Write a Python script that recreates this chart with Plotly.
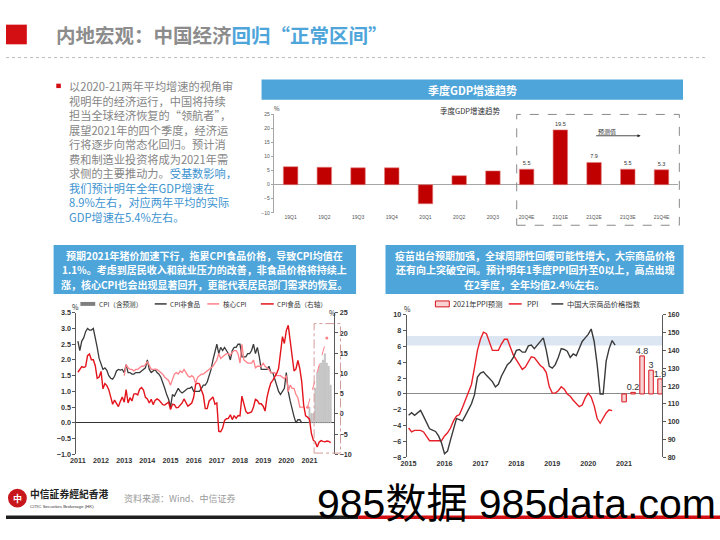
import plotly.graph_objects as go

# ---------------- data ----------------
gdp_quarters = ["19Q1", "19Q2", "19Q3", "19Q4", "20Q1", "20Q2", "20Q3",
                "20Q4E", "21Q1E", "21Q2E", "21Q3E", "21Q4E"]
gdp_growth = [6.4, 6.2, 6.0, 6.0, -6.8, 3.2, 4.9, 5.5, 19.5, 7.9, 5.5, 5.3]
gdp_forecast_from = "20Q4E"

cpi_years = list(range(2011, 2022))
cpi_nonfood_start = (2011, 1)
cpi_nonfood = [
    2.6, 2.3, 2.6, 2.7, 2.9, 3.0, 2.95, 2.95, 3.0, 2.75, 2.4, 2.05,
    1.9, 1.7, 1.75, 1.67, 1.5, 1.42, 1.39, 1.48, 1.65, 1.7, 1.68, 1.7,
    1.6, 1.85, 1.6, 1.6, 1.55, 1.55, 1.6, 1.6, 1.6, 1.65, 1.7, 1.75,
    2.0, 1.7, 1.6, 1.65, 1.7, 1.6, 1.55, 1.45, 1.3, 1.1, 0.9, 0.75,
    0.5, 0.9, 0.85, 1.0, 1.1, 1.0, 0.95, 1.0, 1.05, 1.1, 1.1, 1.15,
    1.0, 1.0, 1.0, 1.0, 1.1, 1.2, 1.2, 1.3, 1.5, 1.7, 2.0, 2.3,
    2.5, 2.2, 2.4, 2.3, 2.4, 2.3, 2.2, 2.0, 2.3, 2.4, 2.4, 2.5,
    2.5, 2.1, 2.1, 2.1, 2.2, 2.2, 2.3, 2.5, 2.2, 2.4, 2.1, 1.7,
    1.7, 1.7, 1.7, 1.8, 1.6, 1.6, 1.4, 1.2, 1.0, 0.9, 1.0, 1.1,
    1.6, 1.0, 0.7, 0.4, 0.2, 0.0, 0.1, 0.1, 0.0,
]
cpi_core_start = (2013, 1)
cpi_core = [
    1.5, 1.85, 1.75, 1.7, 1.7, 1.65, 1.7, 1.7, 1.75, 1.8, 1.8, 1.85,
    1.95, 1.8, 1.7, 1.7, 1.7, 1.7, 1.65, 1.6, 1.55, 1.45, 1.4, 1.35,
    1.2, 1.35, 1.55, 1.6, 1.55, 1.65, 1.6, 1.7, 1.6, 1.5, 1.45, 1.5,
    1.45, 1.25, 1.45, 1.5, 1.55, 1.55, 1.6, 1.65, 1.7, 1.75, 1.8, 1.9,
    2.0, 2.2, 2.05, 2.1, 2.15, 2.2, 2.2, 2.15, 2.25, 2.3, 2.3, 2.2,
    1.9, 2.5, 2.0, 1.95, 1.9, 1.9, 1.9, 2.0, 1.75, 1.8, 1.8, 1.8,
    1.9, 1.8, 1.75, 1.7, 1.6, 1.6, 1.6, 1.5, 1.5, 1.5, 1.45, 1.4,
    1.5, 1.0, 1.2, 1.1, 1.1, 0.9, 0.8, 0.5, 0.5, 0.5,
]
cpi_food_start = (2011, 1)
cpi_food = [
    10.3, 11.0, 11.7, 11.5, 11.7, 14.4, 14.8, 13.4, 13.4, 11.9, 8.8, 9.1,
    10.5, 6.2, 7.5, 7.0, 6.0, 4.2, 2.4, 3.4, 2.5, 1.8, 3.1, 4.2,
    2.9, 6.0, 2.7, 4.0, 3.2, 4.9, 5.0, 4.7, 6.1, 6.5, 5.9, 4.1,
    3.7, 2.7, 3.6, 2.3, 3.3, 3.7, 3.4, 2.8, 2.3, 2.2, 2.5, 2.9,
    1.1, 2.4, 2.3, 1.5, 1.6, 2.1, 2.7, 3.7, 2.7, 1.9, 2.3, 2.7,
    4.1, 7.3, 7.6, 7.4, 5.9, 4.6, 1.3, 1.3, 3.2, 3.8, 4.2, 2.4,
    2.7, -4.3, -4.4, -3.5, -1.6, -1.2, -1.1, -0.2, -1.4, -0.4, -1.1, -0.4,
    -0.5, 4.4, 2.1, 0.7, 0.1, 0.3, 0.5, 1.7, 3.6, 3.3, 2.5, 2.5,
    1.9, 0.7, 4.1, 6.1, 7.7, 8.3, 9.1, 10.0, 11.2, 15.5, 19.1, 17.4,
    20.6, 21.9, 18.3, 14.8, 10.6, 11.1, 13.2, 11.2, 7.9, 2.2, -0.5, -0.8,
    -1.3, -4.8, -6.5, -6.9, -8.2, -7.0, -6.6, -6.8, -6.9, -6.7, -6.8, -7.1,
]
cpi_core_fc_months = [(2020, 12), (2021, 10)]
cpi_core_fc = [0.5, 2.7]
cpi_total_fc_start = (2021, 1)
cpi_total_fc = [0.5, 0.3, 0.3, 1.1, 1.6, 1.8, 1.9, 2.0, 2.2, 1.9, 1.8, 1.2]

ppi_years = list(range(2015, 2022))
ppi_start = (2015, 1)
ppi = [
    -4.3, -4.8, -4.6, -4.6, -4.6, -4.8, -5.4, -5.9, -5.9, -5.9, -5.9, -5.9,
    -5.3, -4.9, -4.3, -3.4, -2.8, -2.6, -1.7, -0.8, 0.1, 1.2, 3.3, 5.5,
    6.9, 7.8, 7.6, 6.4, 5.5, 5.5, 5.5, 6.3, 6.9, 6.9, 5.8, 4.9,
    4.3, 3.7, 3.1, 3.4, 4.1, 4.7, 4.6, 4.1, 3.6, 3.3, 2.7, 0.9,
    0.1, 0.1, 0.4, 0.9, 0.6, 0.0, -0.3, -0.8, -1.2, -1.6, -1.4, -0.5,
    0.1, -0.4, -1.5, -3.1, -3.7, -3.0, -2.4, -2.0, -2.1,
]
commodity_start = (2015, 1)
commodity_index = [
    103.6, 105, 103.6, 105, 106.3, 103, 99, 96, 95.2, 94.5, 92, 88,
    82, 83.5, 89.8, 96, 101.7, 101.2, 100.4, 103.5, 107, 110, 115, 125,
    127.3, 128, 126, 124, 122.5, 119.5, 121, 125.5, 129, 132, 133.5, 136,
    140, 140.5, 139, 139, 142.5, 143, 141, 143, 145, 147, 140, 131,
    130, 132, 136, 141, 140.5, 139.5, 136, 138, 137, 141, 145, 147,
    149, 152, 145, 132, 115.5, 115.5, 134, 141, 145.5, 143,
]
ppi_fc_quarters = ["2020Q4", "2021Q1", "2021Q2", "2021Q3", "2021Q4"]
ppi_fc = [-1.0, 0.2, 4.8, 3.0, 1.9]
ppi_fc_labels = ["", "0.2", "4.8", "3", "1.9"]
ppi_band = [6.1, 7.3]

# ---------------- helpers ----------------
W, H = 720, 540
CJK = "Noto Sans CJK SC, Liberation Sans, sans-serif"
LAT = "Liberation Sans, Noto Sans CJK SC, sans-serif"
BLUE = "#4EA5D9"


def px(x):
    return x / W


def py(y):
    return 1 - y / H


def months(start, n):
    y, m = start
    return [y + (m - 1 + i) / 12 for i in range(n)]


def quarter_end(q):
    return int(q[:4]) + int(q[-1]) / 4


shapes = []
annotations = []


def rect(x0, y0, x1, y1, fill, line=None, lw=0, dash=None, layer="below"):
    shapes.append(dict(type="rect", xref="paper", yref="paper",
                       x0=px(x0), x1=px(x1), y0=py(y1), y1=py(y0),
                       fillcolor=fill, layer=layer,
                       line=dict(color=line or "rgba(0,0,0,0)", width=lw, dash=dash)))


def hline(x0, x1, y, color, width=1, dash=None):
    shapes.append(dict(type="line", xref="paper", yref="paper",
                       x0=px(x0), x1=px(x1), y0=py(y), y1=py(y),
                       line=dict(color=color, width=width, dash=dash)))


def text(x, y, s, size, color="#333", xanchor="left", family=CJK, bold=False,
         align="left", pad=1):
    annotations.append(dict(x=px(x), y=py(y), xref="paper", yref="paper",
                            text=s, showarrow=False, borderpad=pad,
                            xanchor=xanchor, yanchor="middle", align=align,
                            font=dict(size=size, color=color, family=family,
                                      weight="bold" if bold else "normal")))


fig = go.Figure()

# ---------------- GDP chart ----------------
gdp_text = []
in_fc = False
for q, v in zip(gdp_quarters, gdp_growth):
    if q == gdp_forecast_from:
        in_fc = True
    gdp_text.append(f"{v:.1f}" if in_fc else "")

fig.add_trace(go.Bar(
    x=gdp_quarters, y=gdp_growth, width=0.43,
    marker=dict(color="#C00000", line=dict(color="#E28080", width=0.6)),
    text=gdp_text, textposition="outside", constraintext="none", cliponaxis=False,
    textfont=dict(size=5.5, color="#333", family=LAT),
    xaxis="x", yaxis="y", showlegend=False, hoverinfo="skip"))

# ---------------- CPI chart ----------------
fig.add_trace(go.Bar(
    x=months(cpi_total_fc_start, len(cpi_total_fc)), y=cpi_total_fc, width=0.05,
    marker=dict(color="#D2D2D2", line=dict(color="#9A9A9A", width=0.4)),
    xaxis="x2", yaxis="y2", showlegend=False, hoverinfo="skip"))
fig.add_trace(go.Scatter(
    x=months(cpi_nonfood_start, len(cpi_nonfood)), y=cpi_nonfood, mode="lines",
    line=dict(color="#3A3A3A", width=1.3), xaxis="x2", yaxis="y2", showlegend=False))
fig.add_trace(go.Scatter(
    x=months(cpi_core_start, len(cpi_core)), y=cpi_core, mode="lines",
    line=dict(color="#FF8088", width=1.3), xaxis="x2", yaxis="y2", showlegend=False))
fig.add_trace(go.Scatter(
    x=[y + (m - 1) / 12 for y, m in cpi_core_fc_months], y=cpi_core_fc,
    mode="lines+markers", line=dict(color="#FF8088", width=1, dash="dash"),
    marker=dict(size=3, color="#FF8088"), xaxis="x2", yaxis="y2", showlegend=False))
fig.add_trace(go.Scatter(
    x=months(cpi_food_start, len(cpi_food)), y=cpi_food, mode="lines",
    line=dict(color="#E3141C", width=1.4), xaxis="x2", yaxis="y3", showlegend=False))

# ---------------- PPI chart ----------------
fig.add_trace(go.Bar(
    x=[quarter_end(q) for q in ppi_fc_quarters], y=ppi_fc, width=0.125,
    marker=dict(color="#F9D3D3", line=dict(color="#D6141C", width=1)),
    text=ppi_fc_labels, textposition="outside", constraintext="none", cliponaxis=False,
    textfont=dict(size=9, color="#333", family=LAT),
    xaxis="x3", yaxis="y4", showlegend=False, hoverinfo="skip"))
fig.add_trace(go.Scatter(
    x=months(ppi_start, len(ppi)), y=ppi, mode="lines",
    line=dict(color="#E8202A", width=1.4), xaxis="x3", yaxis="y4", showlegend=False))
fig.add_trace(go.Scatter(
    x=months(commodity_start, len(commodity_index)), y=commodity_index, mode="lines",
    line=dict(color="#3A3A3A", width=1.4), xaxis="x3", yaxis="y5", showlegend=False))

# band in PPI chart
shapes.append(dict(type="rect", xref="paper", yref="y4", x0=px(404), x1=px(661.7),
                   y0=ppi_band[0], y1=ppi_band[1], fillcolor="#DCE6F2",
                   line=dict(width=0), layer="below"))

# ---------------- slide decorations ----------------
# title
rect(0, 21, 21, 41, "#D40F14")
annotations.append(dict(x=px(48), y=py(31.5), xref="paper", yref="paper", showarrow=False,
                        xanchor="left", yanchor="middle",
                        font=dict(size=19.5, color="#8C8C8C", family=CJK, weight="bold"),
                        text="内地宏观：中国经济<span style='color:%s'>回归“正常区间”</span>" % BLUE))
hline(0, 708, 54.5, "#BBBBBB", 1, "dot")

# bullet text
rect(50.7, 81, 55.3, 85.5, "#D40F14")
GRAY = "#858585"
TB = "#3C93D0"
bullet_lines = [
    "以2020-21两年平均增速的视角审",
    "视明年的经济运行，中国将持续",
    "担当全球经济恢复的“领航者”，",
    "展望2021年的四个季度，经济运",
    "行将逐步向常态化回归。预计消",
    "费和制造业投资将成为2021年需",
    "求侧的主要推动力。<span style='color:%s'>受基数影响，</span>" % TB,
    "<span style='color:%s'>我们预计明年全年GDP增速在</span>" % TB,
    "<span style='color:%s'>8.9%%左右，对应两年平均的实际</span>" % TB,
    "<span style='color:%s'>GDP增速在5.4%%左右。</span>" % TB,
]
text(62, 149.8, "<br>".join(bullet_lines), 11.2, GRAY)

# GDP header + chart texts
rect(257.7, 76.7, 682.7, 97.3, BLUE)
text(470, 87, "季度GDP增速趋势", 11, "white", "center", bold=True)
text(468, 108.5, "季度GDP增速趋势", 7.5, "#333", "center")
text(273, 106, "%", 6, "#333", "center")
rect(515, 112.3, 679, 225, "rgba(0,0,0,0)", "#8A8A8A", 1, "dash", layer="above")
text(606, 130, "预测值", 6, "#333", "center")
annotations.append(dict(x=px(640), y=py(134), xref="paper", yref="paper",
                        ax=-46, ay=0, axref="pixel", ayref="pixel",
                        text="", showarrow=True, arrowhead=2, arrowsize=0.8,
                        arrowwidth=0.8, arrowcolor="#222"))

# CPI box
rect(48, 245, 353, 295, BLUE)
cpi_box_lines = [
    "预期2021年猪价加速下行，拖累CPI食品价格，导致CPI均值在",
    "1.1%。考虑到居民收入和就业压力的改善，非食品价格将持续上",
    "涨，核心CPI也会出现显著回升，更能代表居民部门需求的恢复。",
]
for i, s in enumerate(cpi_box_lines):
    text(200.5, 256 + i * 14.5, s, 10, "white", "center", bold=True, pad=0)

# PPI box
rect(382.7, 245, 683.3, 295, BLUE)
ppi_box_lines = [
    "疫苗出台预期加强，全球周期性回暖可能性增大，大宗商品价格",
    "还有向上突破空间。预计明年1季度PPI回升至0以上，高点出现",
    "在2季度，全年均值2.4%左右。",
]
for i, s in enumerate(ppi_box_lines):
    text(533, 256 + i * 14.5, s, 10, "white", "center", bold=True, pad=0)

# CPI legend
LY = 305
rect(75, LY - 2, 90, LY + 2, "#7F7F7F")
text(92, LY, "CPI（含预测）", 6.6, "#333")
hline(150, 162, LY, "#3A3A3A", 1.5)
text(163, LY, "CPI非食品", 6.6, "#333")
hline(203, 215, LY, "#FF8088", 1.5)
text(217, LY, "核心CPI", 6.6, "#333")
hline(257, 270, LY, "#E3141C", 1.5)
text(271, LY, "CPI食品（右轴）", 6.6, "#333")
text(70.5, 308.5, "%", 7, "#333", "center")
text(329, 314, "%", 7, "#333", "center")
rect(310.7, 325, 337.3, 456.7, "rgba(0,0,0,0)", "#D49A9A", 1, "dashdot", layer="above")

# PPI legend
rect(433, 302, 447, 308, "#F9D3D3", "#D6141C", 1)
text(449, LY, "2021年PPI预测", 7.3, "#333")
hline(507, 520, LY, "#E8202A", 1.5)
text(523, LY, "PPI", 7.3, "#333")
hline(550, 562, LY, "#3A3A3A", 1.5)
text(564, LY, "中国大宗商品价格指数", 7.3, "#333")
text(405, 310.5, "%", 7, "#333", "center")

# footer
shapes.append(dict(type="circle", xref="paper", yref="paper", x0=px(2), x1=px(21),
                   y0=py(512), y1=py(493), fillcolor="#C8161D", line=dict(width=0)))
text(11.5, 502.5, "中", 9, "white", "center", bold=True)
text(22, 498, "中信証券經紀香港", 9.8, "#222", bold=True, family="Noto Sans CJK TC, sans-serif")
text(22, 511, "CITIC Securities Brokerage (HK)", 4.4, "#333", family=LAT)
text(117, 502.5, "资料来源：Wind、中信证券", 9, "#9A9A9A")
hline(0, 355, 522, "#1E1E1E", 3.5)
hline(355, 720, 522, "#D40F14", 3.5)
text(312, 508, "985数据 985data.com", 41, "#000000", family=LAT)

# ---------------- axes ----------------
tick_small = dict(size=5, color="#555", family=LAT)
tick_mid = dict(size=7.2, color="#333", family=LAT, weight="bold")

fig.update_layout(
    width=W, height=H, autosize=False,
    margin=dict(l=0, r=0, t=0, b=0, pad=0),
    paper_bgcolor="white", plot_bgcolor="rgba(0,0,0,0)",
    showlegend=False, barmode="overlay",
    font=dict(family=CJK),
    shapes=shapes, annotations=annotations,
    xaxis=dict(domain=[px(270), px(678)], anchor="y", type="category",
               range=[-0.5, 11.5], showgrid=False, zeroline=False, showline=False,
               ticks="", tickfont=tick_small, fixedrange=True),
    yaxis=dict(domain=[py(212.3), py(112.3)], anchor="x", range=[-10, 25], dtick=5,
               showgrid=False, showline=True, linecolor="#A6A6A6", linewidth=1,
               ticks="outside", ticklen=2, tickcolor="#A6A6A6", tickfont=tick_small,
               zeroline=True, zerolinecolor="#A6A6A6", zerolinewidth=1),
    xaxis2=dict(domain=[px(71), px(331)], anchor="y2", range=[2010.936, 2022.07],
                tickvals=cpi_years, ticktext=[str(y) for y in cpi_years],
                showgrid=False, zeroline=False, showline=False, ticks="",
                tickfont=tick_mid),
    yaxis2=dict(domain=[py(458), py(314)], anchor="x2", range=[-1, 3.5], dtick=0.5,
                tickformat=".1f", showgrid=False, showline=True, linecolor="#595959",
                ticks="outside", ticklen=3, tickcolor="#595959", tickfont=tick_mid,
                zeroline=True, zerolinecolor="#333333", zerolinewidth=1),
    yaxis3=dict(overlaying="y2", side="right", anchor="x2", range=[-10, 25], dtick=5,
                showgrid=False, showline=True, linecolor="#595959", ticks="outside",
                ticklen=3, tickcolor="#595959", tickfont=tick_mid, zeroline=False),
    xaxis3=dict(domain=[px(404), px(661.7)], anchor="y4", range=[2014.945, 2022.06],
                tickvals=ppi_years, ticktext=[str(y) for y in ppi_years],
                showgrid=False, zeroline=False, showline=False, ticks="",
                tickfont=tick_mid),
    yaxis4=dict(domain=[py(461), py(316)], anchor="x3", range=[-8, 10], dtick=2,
                showgrid=False, showline=True, linecolor="#595959", ticks="outside",
                ticklen=3, tickcolor="#595959", tickfont=tick_mid,
                zeroline=True, zerolinecolor="#8A8A8A", zerolinewidth=1),
    yaxis5=dict(overlaying="y4", side="right", anchor="x3", range=[80, 160], dtick=10,
                showgrid=False, showline=True, linecolor="#595959", ticks="outside",
                ticklen=3, tickcolor="#595959", tickfont=tick_mid, zeroline=False),
)

fig.write_html("out.html")
